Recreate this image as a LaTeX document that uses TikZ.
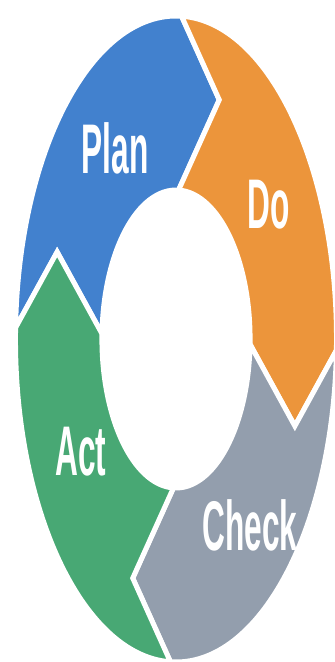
\documentclass[tikz,border=0pt]{standalone}
\usepackage{fontspec}
\setmainfont{Liberation Sans}
\usepackage{graphicx}
\definecolor{planblue}{HTML}{4281CE}
\definecolor{doorange}{HTML}{EC953B}
\definecolor{checkgray}{HTML}{939EAD}
\definecolor{actgreen}{HTML}{48A874}
\newcommand{\sqz}[1]{\scalebox{0.45}[1]{#1}}
\tikzset{
  seg/.style={draw=white, line width=0.1cm, line join=miter},
  lbl/.style={text=white, inner sep=0pt, font=\fontsize{40}{40}\selectfont\bfseries}
}
\begin{document}
\begin{tikzpicture}
\useasboundingbox (-3.52,-6.46) rectangle (3.18,6.78);
\clip (-3.52,-6.46) rectangle (3.18,6.78);
\fill[white] (-3.52,-6.46) rectangle (3.18,6.78);
\begin{scope}[xscale=0.497]
\def\R{6.46}\def\r{2.98}\def\t{5.09}
\foreach \a/\c in {178/planblue, 88/doorange, -2/checkgray, -92/actgreen}{
  \filldraw[seg, fill=\c] (\a:\R) arc[start angle=\a, end angle=\a-90, radius=\R]
    -- (\a-108:\t) -- (\a-90:\r) arc[start angle=\a-90, end angle=\a, radius=\r]
    -- (\a-18:\t) -- cycle;
}
\end{scope}
\node[lbl] (plan) at (-1.22,3.82) {\sqz{Plan}};
\node[lbl] (do) at (1.86,2.68) {\sqz{Do}};
\node[lbl] (act) at (-1.90,-2.26) {\sqz{Act}};
\node[lbl] (check) at (1.48,-3.72) {\sqz{Check}};
\end{tikzpicture}
\end{document}
